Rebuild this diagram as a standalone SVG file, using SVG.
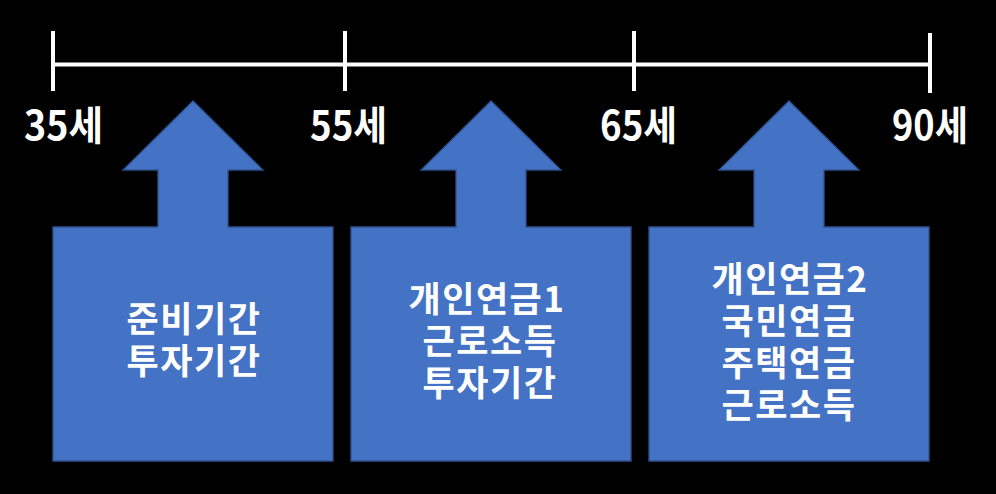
<svg xmlns="http://www.w3.org/2000/svg" width="996" height="494" viewBox="0 0 996 494">
<style>
.tl{stroke:#fff;stroke-width:4;fill:none}
.age{font-family:"Noto Sans CJK KR","Noto Sans",sans-serif;font-weight:bold;font-size:40px;fill:#fff}
.box{fill:#4472c4;stroke:#2f528f;stroke-width:1.3}
.lbl{font-family:"Noto Sans CJK KR","Noto Sans",sans-serif;font-weight:bold;font-size:35px;fill:#fff;text-anchor:middle;letter-spacing:1.5px}
</style>
<rect width="996" height="494" fill="#000"/>
<g id="timeline">
<line class="tl" x1="53" y1="64.5" x2="930" y2="64.5"/>
<line class="tl" x1="53" y1="31" x2="53" y2="91"/>
<line class="tl" x1="345" y1="31" x2="345" y2="91"/>
<line class="tl" x1="634" y1="31" x2="634" y2="91"/>
<line class="tl" x1="930" y1="33" x2="930" y2="93"/>
<text class="age" x="24" y="140" textLength="79" lengthAdjust="spacingAndGlyphs">35세</text>
<text class="age" x="310" y="140" textLength="77" lengthAdjust="spacingAndGlyphs">55세</text>
<text class="age" x="600" y="140" textLength="77" lengthAdjust="spacingAndGlyphs">65세</text>
<text class="age" x="892" y="140" textLength="76" lengthAdjust="spacingAndGlyphs">90세</text>
</g>
<g id="node1">
<path class="box" d="M53,227 H158 V170 H123 L193,101 L263,170 H228 V227 H333 V461 H53 Z"/>
<text class="lbl" x="194" y="332">준비기간</text>
<text class="lbl" x="194" y="374">투자기간</text>
</g>
<g id="node2">
<path class="box" d="M351,227 H456 V170 H421 L491,101 L561,170 H526 V227 H631 V461 H351 Z"/>
<text class="lbl" x="487" y="312">개인연금1</text>
<text class="lbl" x="490" y="354">근로소득</text>
<text class="lbl" x="490" y="396">투자기간</text>
</g>
<g id="node3">
<path class="box" d="M649,227 H754 V170 H719 L789,101 L859,170 H824 V227 H929 V461 H649 Z"/>
<text class="lbl" x="790" y="292">개인연금2</text>
<text class="lbl" x="789" y="334">국민연금</text>
<text class="lbl" x="789" y="376">주택연금</text>
<text class="lbl" x="789" y="418">근로소득</text>
</g>
</svg>
